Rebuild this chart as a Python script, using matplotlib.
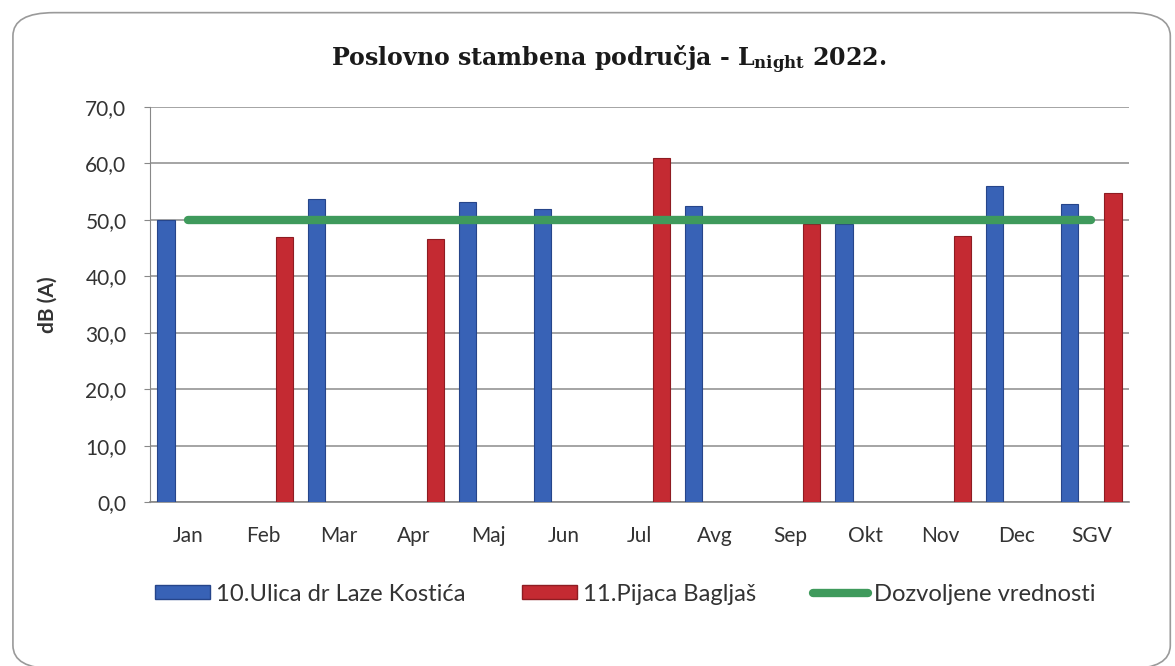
import numpy as np
import matplotlib
matplotlib.use('agg')
import matplotlib.pyplot as plt
from matplotlib.patches import FancyBboxPatch, Patch
from matplotlib.lines import Line2D

months = ['Jan', 'Feb', 'Mar', 'Apr', 'Maj', 'Jun', 'Jul', 'Avg',
          'Sep', 'Okt', 'Nov', 'Dec', 'SGV']
# NaN = no measurement in that month
laze_kostica = [50.0, np.nan, 53.7, np.nan, 53.2, 51.9, np.nan, 52.5,
                np.nan, 49.2, np.nan, 56.0, 52.8]
pijaca_bagljas = [np.nan, 46.9, np.nan, 46.6, np.nan, np.nan, 61.0, np.nan,
                  49.3, np.nan, 47.2, np.nan, 54.8]
limit = [50.0] * len(months)

blue = '#3862b6'
red = '#c42a32'
green = '#3f9a5c'

plt.rcParams['font.family'] = ['Lato', 'DejaVu Sans']
plt.rcParams['mathtext.fontset'] = 'dejavuserif'

fig = plt.figure(figsize=(11.75, 6.66), dpi=100)
fig.patch.set_facecolor('white')

# rounded frame around the whole chart
frame = FancyBboxPatch((0.011, -0.004), 0.985, 0.985,
                       boxstyle='round,pad=0,rounding_size=0.035',
                       transform=fig.transFigure, facecolor='white',
                       edgecolor='#9a9a9a', linewidth=1.2, zorder=-10)
fig.patches.append(frame)

ax = fig.add_axes([0.1277, 0.2462, 0.8332, 0.5931])
ax.set_facecolor('none')

x = np.arange(len(months))
w = 0.23
off = 0.287
ax.bar(x - off, laze_kostica, width=w, color=blue, edgecolor='#26458a',
       linewidth=0.8, zorder=3)
ax.bar(x + off, pijaca_bagljas, width=w, color=red, edgecolor='#8e1c22',
       linewidth=0.8, zorder=3)
ax.plot(x, limit, color=green, linewidth=6, solid_capstyle='round', zorder=4)

ax.set_xlim(-0.5, len(months) - 0.5)
ax.set_ylim(0, 70)
yt = np.arange(0, 71, 10)
ax.set_yticks(yt)
ax.set_yticklabels(['{:.1f}'.format(v).replace('.', ',') for v in yt],
                   fontsize=15, color='#333333')
ax.set_xticks(x)
ax.set_xticklabels(months, fontsize=15, color='#333333')
ax.tick_params(axis='x', length=0, pad=17)
ax.tick_params(axis='y', length=4, color='#888888', pad=13)
ax.grid(axis='y', color='#8c8c8c', linewidth=1.1, zorder=0)

for side in ['top', 'right']:
    ax.spines[side].set_visible(False)
ax.spines['left'].set_color('#888888')
ax.spines['bottom'].set_color('#888888')
ax.spines['bottom'].set_linewidth(1.2)

ax.set_ylabel('dB (A)', fontsize=15, fontweight='bold', color='#333333',
              labelpad=20)

fig.text(0.518, 0.91, r'Poslovno stambena područja - L$_{\mathbf{night}}$ 2022.',
         ha='center', va='center', fontsize=17, fontweight='bold',
         family='DejaVu Serif', color='#1a1a1a')

handles = [Patch(facecolor=blue, edgecolor='#26458a'),
           Patch(facecolor=red, edgecolor='#8e1c22'),
           Line2D([0], [0], color=green, linewidth=6, solid_capstyle='round')]
labels = ['10.Ulica dr Laze Kostića', '11.Pijaca Bagljaš', 'Dozvoljene vrednosti']
fig.legend(handles, labels, loc='center', bbox_to_anchor=(0.532, 0.108),
           ncol=3, frameon=False, fontsize=17.1, handlelength=2.3,
           handleheight=0.5, columnspacing=2.4, handletextpad=0.25,
           labelcolor='#333333')

fig.savefig('out.png', dpi=100)
